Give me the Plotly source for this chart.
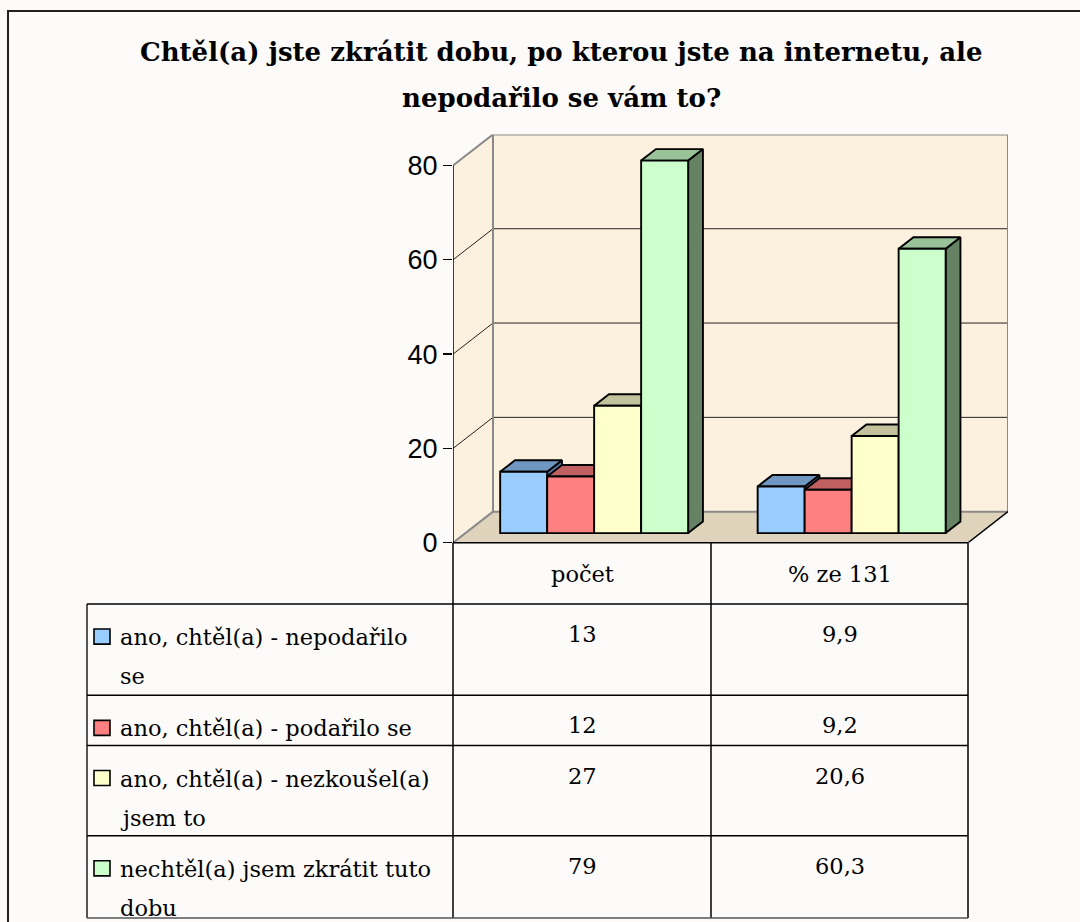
import plotly.graph_objects as go

# ---------------- data ----------------
title_lines = ["Chtěl(a) jste zkrátit dobu, po kterou jste na internetu, ale",
               "nepodařilo se vám to?"]
categories = ["počet", "% ze 131"]
series_names = ["ano, chtěl(a) - nepodařilo<br>se",
                "ano, chtěl(a) - podařilo se",
                "ano, chtěl(a) - nezkoušel(a)<br>jsem to",
                "nechtěl(a) jsem zkrátit tuto<br>dobu"]
counts = [13, 12, 27, 79]
percents = [9.9, 9.2, 20.6, 60.3]
y_ticks = [0, 20, 40, 60, 80]

# ---------------- style ----------------
front_colors = ["#99ccff", "#ff8080", "#ffffcc", "#ccffcc"]
top_colors = ["#6f97c2", "#c06060", "#c2c29c", "#99c299"]
side_colors = ["#587ba3", "#9c4c4c", "#a3a37f", "#658265"]
PAGE_BG = "#fcfbf9"
WALL = "#fcf1de"
FLOOR = "#dfd3bc"
EDGE = "#8a8a8a"
SERIF = "DejaVu Serif"
BAR_LW = 1.9

W, H = 1080, 922          # reference canvas (layout positions below are in these px)
FIG_H = 940               # rendered height (compensates the capture's vertical squeeze)
PX0, PX1 = 453, 1008      # plot domain (px), front-left to back-right
PY0, PY1 = 541, 134       # value 0 (front) to top of back wall (px)
DEPTH = (40, 31)          # 3-D depth offset (px)
YMAX = 80
ncat = len(categories)
front_w_px = PX1 - PX0 - DEPTH[0]
ppx = front_w_px / ncat                      # px per x unit
ppy = (PY0 - PY1 - DEPTH[1]) / YMAX          # px per y unit
dx = DEPTH[0] / ppx
dy = DEPTH[1] / ppy
XR = [0, ncat + dx]
YR = [0, YMAX + dy]
BARGAP = 0.27
F_FRONT = 0.31            # bar front depth fraction
F_DEPTH = 0.37            # bar depth fraction
sx, sy = F_FRONT * dx, F_FRONT * dy
bx, by = F_DEPTH * dx, F_DEPTH * dy


def xp(px):
    return px / W


def yp(py):
    return 1 - py / H


values = [[c, p] for c, p in zip(counts, percents)]
nser = len(series_names)
bw = (1 - BARGAP) / nser

fig = go.Figure()

# tops and sides (painter order, left to right)
for j in range(ncat):
    for i in range(nser):
        v = values[i][j]
        xl = j + 0.5 - (1 - BARGAP) / 2 + i * bw + sx
        xr = xl + bw
        yb, yt = sy, sy + v
        fig.add_trace(go.Scatter(
            x=[xr, xr, xr + bx, xr + bx, xr], y=[yb, yt, yt + by, yb + by, yb],
            mode="lines", fill="toself", fillcolor=side_colors[i],
            line=dict(color="black", width=BAR_LW), hoverinfo="skip", showlegend=False))
        fig.add_trace(go.Scatter(
            x=[xl, xr, xr + bx, xl + bx, xl], y=[yt, yt, yt + by, yt + by, yt],
            mode="lines", fill="toself", fillcolor=top_colors[i],
            line=dict(color="black", width=BAR_LW), hoverinfo="skip", showlegend=False))

# front faces as real bars on an overlaid axis pair
for i in range(nser):
    fig.add_trace(go.Bar(
        x=[j + 0.5 + sx for j in range(ncat)], y=values[i], base=[sy] * ncat,
        name=series_names[i].replace("<br>", " "),
        marker=dict(color=front_colors[i], line=dict(color="black", width=BAR_LW)),
        xaxis="x2", yaxis="y2", showlegend=False))

shapes = []
# walls and floor
shapes.append(dict(type="path", xref="x", yref="y", layer="below",
                   path=f"M 0,0 L 0,{YMAX} L {dx},{YMAX + dy} L {dx},{dy} Z",
                   fillcolor=WALL, line=dict(width=0)))
shapes.append(dict(type="rect", xref="x", yref="y", layer="below",
                   x0=dx, x1=ncat + dx, y0=dy, y1=YMAX + dy,
                   fillcolor=WALL, line=dict(width=0)))
shapes.append(dict(type="path", xref="x", yref="y", layer="below",
                   path=f"M 0,0 L {ncat},0 L {ncat + dx},{dy} L {dx},{dy} Z",
                   fillcolor=FLOOR, line=dict(width=0)))
for v in y_ticks[1:-1]:
    shapes.append(dict(type="line", xref="x", yref="y", layer="below",
                       x0=dx, x1=ncat + dx, y0=v + dy, y1=v + dy,
                       line=dict(color="#222", width=1)))
    shapes.append(dict(type="line", xref="x", yref="y", layer="below",
                       x0=0, x1=dx, y0=v, y1=v + dy,
                       line=dict(color="#222", width=1)))
# grey wall edges
shapes.append(dict(type="rect", xref="x", yref="y", layer="below",
                   x0=dx, x1=ncat + dx, y0=dy, y1=YMAX + dy,
                   line=dict(color=EDGE, width=2)))
for v in (0, YMAX):
    shapes.append(dict(type="line", xref="x", yref="y", layer="below",
                       x0=0, x1=dx, y0=v, y1=v + dy, line=dict(color=EDGE, width=2)))
# floor right edge & front axis
shapes.append(dict(type="line", xref="x", yref="y",
                   x0=ncat, x1=ncat + dx, y0=0, y1=dy, line=dict(color="black", width=1.5)))
shapes.append(dict(type="line", xref="x", yref="y",
                   x0=0, x1=0, y0=0, y1=YMAX, line=dict(color="black", width=1.5)))

# ---------------- data table ----------------
T_LEFT, T_RIGHT = 87, 968
COL_X = [453, 711, 968]
T_TOP, HDR_BOT = 541, 602
ROW_BOT = [693, 743, 833, 915]
LW = 1.5
for cx in COL_X:
    shapes.append(dict(type="line", xref="paper", yref="paper",
                       x0=xp(cx), x1=xp(cx), y0=yp(T_TOP), y1=yp(ROW_BOT[-1]),
                       line=dict(color="black", width=LW)))
shapes.append(dict(type="line", xref="paper", yref="paper",
                   x0=xp(PX0), x1=xp(T_RIGHT), y0=yp(T_TOP), y1=yp(T_TOP),
                   line=dict(color="black", width=LW)))
shapes.append(dict(type="line", xref="paper", yref="paper",
                   x0=xp(T_LEFT), x1=xp(T_LEFT), y0=yp(HDR_BOT), y1=yp(ROW_BOT[-1]),
                   line=dict(color="#555", width=2)))
for ry in [HDR_BOT] + ROW_BOT:
    shapes.append(dict(type="line", xref="paper", yref="paper",
                       x0=xp(T_LEFT), x1=xp(T_RIGHT), y0=yp(ry), y1=yp(ry),
                       line=dict(color="black" if ry != ROW_BOT[-1] else "#555", width=LW)))

# outer frame
shapes.append(dict(type="rect", xref="paper", yref="paper",
                   x0=xp(8), x1=xp(1100), y0=yp(11), y1=yp(980),
                   line=dict(color="#222", width=2)))

annotations = []
# title
for k, (line, ty) in enumerate(zip(title_lines, [52, 98])):
    annotations.append(dict(text=f"<b>{line}</b>", xref="paper", yref="paper",
                            x=xp(561), y=yp(ty), xanchor="center", yanchor="middle",
                            showarrow=False, font=dict(family=SERIF, size=26, color="black")))
TFONT = 22.5
# header
col_centers = [(COL_X[k] + COL_X[k + 1]) / 2 for k in range(ncat)]
for k, c in enumerate(categories):
    annotations.append(dict(text=c, xref="paper", yref="paper", x=xp(col_centers[k]),
                            y=yp(572), xanchor="center", yanchor="middle", showarrow=False,
                            font=dict(family=SERIF, size=TFONT, color="black")))
row_tops = [HDR_BOT] + ROW_BOT[:-1]
LINE_GAP = 39


def fmt(v, k):
    return f"{v:g}" if k == 0 else f"{v:.1f}".replace(".", ",")


for i in range(nser):
    y1 = row_tops[i] + 33
    for li, txt in enumerate(series_names[i].split("<br>")):
        annotations.append(dict(text=txt, xref="paper", yref="paper", x=xp(118),
                                y=yp(y1 + li * LINE_GAP), xanchor="left", yanchor="middle",
                                showarrow=False,
                                font=dict(family=SERIF, size=TFONT, color="black")))
    for k in range(ncat):
        annotations.append(dict(text=fmt(values[i][k], k), xref="paper", yref="paper",
                                x=xp(col_centers[k]), y=yp(y1 - 3), xanchor="center",
                                yanchor="middle", showarrow=False,
                                font=dict(family=SERIF, size=TFONT, color="black")))
    shapes.append(dict(type="rect", xref="paper", yref="paper",
                       x0=xp(94), x1=xp(110), y0=yp(y1 - 8), y1=yp(y1 + 7),
                       fillcolor=front_colors[i], line=dict(color="black", width=1.6)))

axis_common = dict(range=XR, domain=[xp(PX0), xp(PX1)], showgrid=False,
                   zeroline=False, showticklabels=False, ticks="", showline=False,
                   fixedrange=True)
fig.update_layout(
    width=W, height=FIG_H, margin=dict(l=0, r=0, t=0, b=0),
    paper_bgcolor=PAGE_BG, plot_bgcolor="rgba(0,0,0,0)",
    barmode="group", bargap=BARGAP, bargroupgap=0,
    xaxis=dict(**axis_common),
    xaxis2=dict(**axis_common, overlaying="x", anchor="y2"),
    yaxis=dict(range=YR, domain=[yp(PY0), yp(PY1)], showgrid=False, zeroline=False,
               tickvals=y_ticks, ticktext=[str(t) for t in y_ticks],
               ticks="outside", ticklen=9, tickcolor="black", tickwidth=1.3,
               tickfont=dict(family="Liberation Sans", size=27, color="black"),
               showline=False, fixedrange=True, anchor="x"),
    yaxis2=dict(range=YR, domain=[yp(PY0), yp(PY1)], overlaying="y", anchor="x2",
                showgrid=False, zeroline=False, showticklabels=False, showline=False,
                fixedrange=True),
    shapes=shapes, annotations=annotations, showlegend=False,
)

fig.write_html("out.html", config={"displayModeBar": False, "staticPlot": True},
               post_script="document.documentElement.style.overflow='hidden';"
                           "document.body.style.overflow='hidden';"
                           "document.body.style.margin='0';"
                           "document.body.style.background='" + PAGE_BG + "';")
